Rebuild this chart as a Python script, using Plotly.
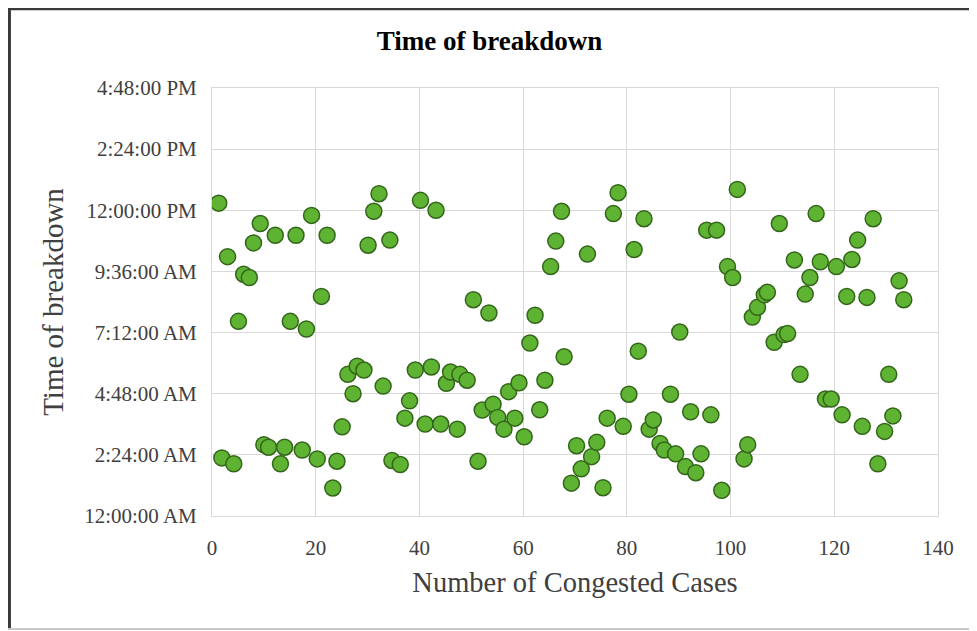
import plotly.graph_objects as go

# Case number (x) and time of breakdown in hours after midnight (y)
cases = [1.3, 1.9, 3.0, 4.2, 5.1, 6.1, 7.2, 8.0, 9.3, 10.0, 10.9, 12.2, 13.2, 14.0, 15.1, 16.2,
         17.4, 18.2, 19.2, 20.3, 21.1, 22.2, 23.3, 24.1, 25.1, 26.2, 27.2, 28.0, 29.3, 30.1,
         31.2, 32.2, 33.0, 34.3, 34.7, 36.3, 37.2, 38.1, 39.2, 40.2, 41.1, 42.3, 43.2, 44.1,
         45.2, 46.0, 47.3, 47.8, 49.2, 50.4, 51.3, 52.1, 53.4, 54.2, 55.1, 56.3, 57.2, 58.4,
         59.2, 60.2, 61.3, 62.3, 63.2, 64.2, 65.3, 66.3, 67.4, 67.9, 69.3, 70.3, 71.2, 72.4,
         73.2, 74.2, 75.4, 76.2, 77.4, 78.3, 79.3, 80.4, 81.4, 82.2, 83.3, 84.3, 85.1, 86.4,
         87.2, 88.4, 89.4, 90.2, 91.3, 92.3, 93.3, 94.3, 95.4, 96.2, 97.3, 98.3, 99.4, 100.4,
         101.3, 102.6, 103.3, 104.2, 105.2, 106.5, 107.1, 108.4, 109.4, 110.3, 111.0, 112.3,
         113.4, 114.4, 115.3, 116.5, 117.3, 118.3, 119.4, 120.4, 121.5, 122.4, 123.4, 124.5,
         125.4, 126.3, 127.5, 128.4, 129.7, 130.5, 131.3, 132.5, 133.4]

breakdown_hours = [12.28, 2.28, 10.18, 2.05, 7.64, 9.49, 9.36, 10.72, 11.48, 2.80, 2.70, 11.02,
                   2.05, 2.70, 7.64, 11.02, 2.59, 7.34, 11.80, 2.24, 8.62, 11.02, 1.10, 2.15,
                   3.50, 5.56, 4.80, 5.88, 5.73, 10.63, 11.96, 12.65, 5.10, 10.83, 2.18, 2.02,
                   3.84, 4.52, 5.73, 12.39, 3.61, 5.85, 12.00, 3.61, 5.21, 5.65, 3.41, 5.56,
                   5.33, 8.49, 2.15, 4.16, 7.97, 4.39, 3.87, 3.41, 4.88, 3.84, 5.23, 3.11,
                   6.79, 7.88, 4.17, 5.33, 9.79, 10.79, 11.96, 6.25, 1.29, 2.76, 1.85, 10.28,
                   2.33, 2.89, 1.11, 3.84, 11.87, 12.69, 3.52, 4.78, 10.46, 6.47, 11.67, 3.41,
                   3.77, 2.85, 2.59, 4.78, 2.44, 7.22, 1.94, 4.09, 1.70, 2.44, 11.22, 3.97,
                   11.22, 1.01, 9.79, 9.36, 12.82, 2.24, 2.80, 7.81, 8.19, 8.68, 8.78, 6.82,
                   11.48, 7.12, 7.16, 10.05, 5.56, 8.71, 9.36, 11.87, 9.98, 4.59, 4.59, 9.79,
                   3.97, 8.62, 10.07, 10.83, 3.52, 8.58, 11.67, 2.05, 3.32, 5.56, 3.93, 9.23,
                   8.49]

y_tick_hours = [0, 2.4, 4.8, 7.2, 9.6, 12.0, 14.4, 16.8]
y_tick_labels = ["12:00:00 AM", "2:24:00 AM", "4:48:00 AM", "7:12:00 AM",
                 "9:36:00 AM", "12:00:00 PM", "2:24:00 PM", "4:48:00 PM"]
x_ticks = [0, 20, 40, 60, 80, 100, 120, 140]

FONT = "Liberation Serif, Times New Roman, serif"
GRID = "#d9d9d9"

fig = go.Figure(go.Scatter(
    x=cases, y=breakdown_hours, mode="markers",
    marker=dict(size=16, color="#5fb332", line=dict(color="#33661a", width=1.5)),
    showlegend=False,
))

fig.update_layout(
    width=969, height=623,
    margin=dict(l=204, r=39, t=80, b=115),
    paper_bgcolor="white", plot_bgcolor="white",
    font=dict(family=FONT, color="#333333"),
    title=dict(text="<b>Time of breakdown</b>", x=0.497, xref="container", xanchor="center",
               y=0.947, yanchor="middle", font=dict(size=27, color="#000000", family=FONT)),
    xaxis=dict(range=[0, 140], tickvals=x_ticks, showgrid=True, gridcolor=GRID, gridwidth=1,
               zeroline=False, showline=True, linecolor=GRID, mirror=True,
               ticks="", ticklabelstandoff=13,
               tickfont=dict(size=21, color="#404040", family=FONT),
               title=dict(text="Number of Congested Cases", standoff=12,
                          font=dict(size=28.5, color="#404040", family=FONT))),
    yaxis=dict(range=[0, 16.8], tickvals=y_tick_hours, ticktext=y_tick_labels,
               showgrid=True, gridcolor=GRID, gridwidth=1,
               zeroline=False, showline=True, linecolor=GRID, mirror=True,
               ticks="", ticklabelstandoff=10,
               tickfont=dict(size=21, color="#404040", family=FONT),
               title=dict(text="Time of breakdown", standoff=12,
                          font=dict(size=29, color="#404040", family=FONT))),
    shapes=[
        dict(type="line", xref="paper", yref="paper", x0=-0.281, x1=1.06, y0=1.185, y1=1.185,
             line=dict(color="#3a3a3a", width=3)),
        dict(type="line", xref="paper", yref="paper", x0=-0.279, x1=-0.279, y0=1.185, y1=-0.264,
             line=dict(color="#3a3a3a", width=3)),
        dict(type="line", xref="paper", yref="paper", x0=-0.281, x1=1.06, y0=-0.264, y1=-0.264,
             line=dict(color="#c8c8c8", width=2)),
    ],
)

fig.write_html("out.html")
